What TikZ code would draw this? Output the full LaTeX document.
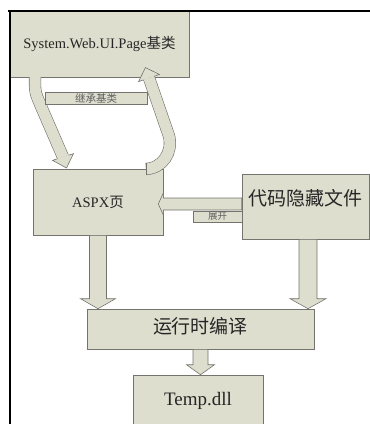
\documentclass[tikz,border=0pt]{standalone}
\usepackage{fontspec}
\setmainfont{Liberation Serif}
\newfontfamily\cjk{Noto Sans CJK SC}
\usetikzlibrary{calc}

\definecolor{boxfill}{RGB}{221,222,206}
\definecolor{boxline}{RGB}{116,116,110}
\definecolor{tagtext}{RGB}{95,95,95}

\tikzset{
  box/.style={draw=boxline, fill=boxfill, line width=0.6pt, inner sep=0pt, text=black!85},
  tag/.style={draw=boxline, fill=boxfill, line width=0.6pt, inner sep=0pt, text=tagtext},
  arrowbody/.style={draw=boxline, fill=boxfill, line width=0.6pt, line join=miter},
  curvebody/.style={draw=boxline, line width=0.6pt, double=boxfill, double distance=11pt},
  frame/.style={draw=black, line width=2pt}
}

% block arrow: #1 tail, #2 tip, #3 half shaft, #4 half head, #5 head length
\newcommand{\blockarrow}[5]{%
  \coordinate (ba) at ($(#2)!#5!(#1)$);
  \filldraw[arrowbody] ($(#1)!#3!90:(#2)$) -- ($(ba)!#3!90:(#2)$) -- ($(ba)!#4!90:(#2)$) -- (#2)
    -- ($(ba)!#4!-90:(#2)$) -- ($(ba)!#3!-90:(#2)$) -- ($(#1)!#3!-90:(#2)$) -- cycle;}

% head for a bent arrow: #1 base centre, #2 tip, #3 half shaft, #4 half head
\newcommand{\curvehead}[4]{%
  \fill[boxfill] ($(#1)!#4!90:(#2)$) -- (#2) -- ($(#1)!#4!-90:(#2)$) -- cycle;
  \draw[boxline, line width=0.6pt, line join=miter] ($(#1)!#3!90:(#2)$) -- ($(#1)!#4!90:(#2)$)
    -- (#2) -- ($(#1)!#4!-90:(#2)$) -- ($(#1)!#3!-90:(#2)$);}

\begin{document}
\begin{tikzpicture}[x=1pt, y=-1pt]
\useasboundingbox (0,0) rectangle (370,424);
\clip (0,0) rectangle (370,424);

% Boxes
\node[box, minimum width=179pt, minimum height=67pt, font=\fontsize{14.5}{17}\selectfont]
  (page) at (99.5,43.5) {System.Web.UI.Page{\cjk 基类}};
\node[box, minimum width=130pt, minimum height=66pt, font=\fontsize{14.5}{17}\selectfont]
  (aspx) at (98,202) {ASPX{\cjk 页}};
\node[box, minimum width=127pt, minimum height=65pt, font=\cjk\fontsize{19}{22}\selectfont,
  text height=16pt, text depth=18.6pt] (code) at (305.5,206.5) {代码隐藏文件};
\node[box, minimum width=227pt, minimum height=40pt, font=\cjk\fontsize{19}{22}\selectfont,
  text height=16pt, text depth=7.6pt] (compile) at (200.5,329) {运行时编译};
\node[box, minimum width=130pt, minimum height=52pt, font=\fontsize{19}{22}\selectfont]
  (temp) at (198,401) {Temp.dll};

% Bent arrow down into the page
\coordinate (lhead) at (63,157);
\coordinate (ltip) at (66.5,168);
\draw[curvebody] (35,77) .. controls (35,92) .. (40,104) -- (lhead);
\curvehead{lhead}{ltip}{5.8pt}{11pt}

% Bent arrow back up to the base class
\coordinate (rtail) at (146,169);
\coordinate (rhead) at (149,78);
\coordinate (rtip) at (145.4,67.6);
\draw[curvebody] (rtail) .. controls (163,168) and (173,152) .. (169,136) -- (rhead);
\draw[boxline, line width=0.6pt] (146,163.2) -- (146,174.8);
\curvehead{rhead}{rtip}{5.8pt}{11pt}

% Straight arrows
\coordinate (h0) at ([yshift=2.5pt]code.west);
\path (aspx.east |- h0) ++(-5pt,0) coordinate (h1);
\blockarrow{h0}{h1}{6pt}{11pt}{5pt}
\coordinate (d1) at (aspx.south |- compile.north);
\blockarrow{aspx.south}{d1}{8.5pt}{17.5pt}{10pt}
\coordinate (d2t) at ([xshift=2.5pt]code.south);
\coordinate (d2) at (d2t |- compile.north);
\blockarrow{d2t}{d2}{9pt}{18pt}{10pt}
\coordinate (d3) at (compile.south |- temp.north);
\blockarrow{compile.south}{d3}{7.5pt}{14pt}{10pt}

% Small tags
\node[tag, minimum width=102pt, minimum height=12pt, font=\cjk\fontsize{10.5}{11}\selectfont]
  (inherit) at (96,98) {继承基类};
\node[tag, minimum width=49pt, minimum height=11pt, font=\cjk\fontsize{9.5}{10}\selectfont]
  (expand) at (217.5,216.5) {展开};

% Frame lines along the top and left
\draw[frame] (8,10.5) -- (370,10.5);
\draw[frame] (9.5,10) -- (9.5,424);
\end{tikzpicture}
\end{document}
